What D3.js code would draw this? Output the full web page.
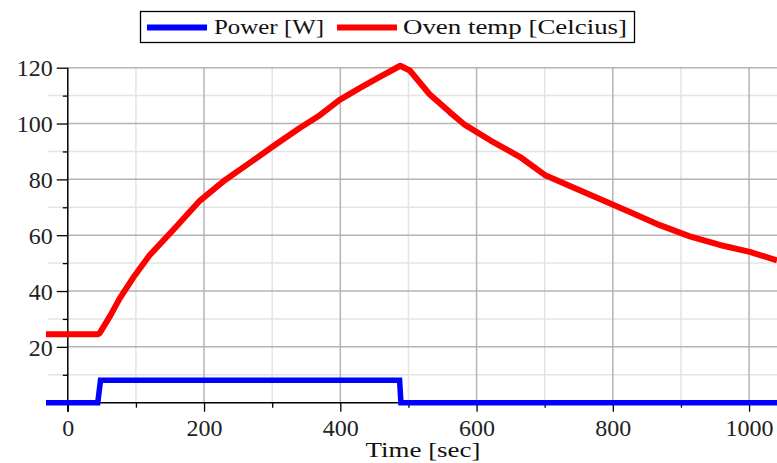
<!DOCTYPE html>
<html>
<head>
<meta charset="utf-8">
<script src="https://cdn.jsdelivr.net/npm/d3@7"></script>
<style>
    body { margin: 0; background: #fff; }
    svg { display: block; }
    .tick-label { font-family: "Liberation Serif", serif; font-size: 24px; fill: #222; }
    .legend-text { font-family: "Liberation Serif", serif; font-size: 20px; fill: #111; }
</style>
</head>
<body>
<svg id="chart" width="777" height="463"></svg>
<script>
// oven temperature
const tempTime = [-32, 0, 30, 44, 47, 62, 76, 98, 120, 157, 194, 231, 267, 304, 341, 370, 399, 429, 458, 488,
    502, 531, 561, 583, 620, 664, 700, 737, 781, 825, 869, 913, 957, 1001, 1041];
const tempValue = [24.5, 24.5, 24.5, 24.5, 25, 31, 37.3, 45.5, 52.8, 62.5, 72.4, 79.8, 85.9, 92.3, 98.5, 103, 108.5, 112.8, 116.7, 120.7,
    119, 110.5, 104, 99.5, 94, 88, 81.6, 77.6, 73, 68.3, 63.6, 59.6, 56.5, 54, 51];

// heater power (on/off step)
const powerTime = [-32, 44, 48, 487, 489, 1041];
const powerValue = [0, 0, 8, 8, 0, 0];

const xTicks = [0, 200, 400, 600, 800, 1000];
const xMinor = [100, 300, 500, 700, 900];
const yTicks = [20, 40, 60, 80, 100, 120];
const yMinor = [10, 30, 50, 70, 90, 110];

const seriesNames = ["Power [W]", "Oven temp [Celcius]"];
const seriesColors = ["#0000ff", "#ff0000"];

const svg = d3.select("#chart");

const plotLeft = 46, plotRight = 777, plotTop = 67.7, plotBottom = 402.7;
const x = d3.scaleLinear().domain([-32, 1041]).range([plotLeft, plotRight]);
const y = d3.scaleLinear().domain([0, 120]).range([plotBottom, plotTop]);

// grid
const grid = svg.append("g");
grid.selectAll(".ymin").data(yMinor).enter().append("line")
    .attr("x1", 48).attr("x2", plotRight)
    .attr("y1", d => y(d)).attr("y2", d => y(d))
    .attr("stroke", "#e4e4e4").attr("stroke-width", 1.5);
grid.selectAll(".xmin").data(xMinor).enter().append("line")
    .attr("x1", d => x(d)).attr("x2", d => x(d))
    .attr("y1", plotTop).attr("y2", plotBottom)
    .attr("stroke", "#e4e4e4").attr("stroke-width", 1.5);
grid.selectAll(".ymaj").data(yTicks).enter().append("line")
    .attr("x1", x(0)).attr("x2", plotRight)
    .attr("y1", d => y(d)).attr("y2", d => y(d))
    .attr("stroke", "#b4b4b4").attr("stroke-width", 1.5);
grid.selectAll(".xmaj").data(xTicks.filter(d => d > 0)).enter().append("line")
    .attr("x1", d => x(d)).attr("x2", d => x(d))
    .attr("y1", plotTop).attr("y2", plotBottom)
    .attr("stroke", "#b4b4b4").attr("stroke-width", 1.5);

// axes
const yAxis = d3.axisLeft(y).tickValues(yTicks).tickSize(11).tickPadding(4).tickFormat(d3.format("d"));
const yAxisMinor = d3.axisLeft(y).tickValues(yMinor).tickSize(5).tickFormat("");
const xAxis = d3.axisBottom(x).tickValues(xTicks).tickSize(9).tickPadding(8).tickFormat(d3.format("d"));
const xAxisMinor = d3.axisBottom(x).tickValues(xMinor).tickSize(5).tickFormat("");

function styleAxis(g) {
    g.select(".domain").remove();
    g.selectAll("line").attr("stroke", "#000").attr("stroke-width", 1.3);
    g.selectAll("text").attr("class", "tick-label").attr("fill", "#222");
}

svg.append("g").attr("transform", `translate(${x(0)},0)`).call(yAxis).call(styleAxis)
    .selectAll("text").attr("dy", "0.34em");
svg.append("g").attr("transform", `translate(${x(0)},0)`).call(yAxisMinor).call(styleAxis);
svg.append("g").attr("transform", `translate(0,${plotBottom})`).call(xAxis).call(styleAxis)
    .selectAll("text").attr("dy", "0.68em");
svg.append("g").attr("transform", `translate(0,${plotBottom})`).call(xAxisMinor).call(styleAxis);

// axis lines
svg.append("line")
    .attr("x1", x(0)).attr("x2", x(0)).attr("y1", plotTop).attr("y2", plotBottom + 9)
    .attr("stroke", "#000").attr("stroke-width", 1.5);
svg.append("line")
    .attr("x1", plotLeft).attr("x2", plotRight).attr("y1", plotBottom).attr("y2", plotBottom)
    .attr("stroke", "#000").attr("stroke-width", 1.5);

// series
const line = d3.line().x(d => x(d[0])).y(d => y(d[1]));

const tempData = tempTime.map((t, i) => [t, tempValue[i]]);
const powerData = powerTime.map((t, i) => [t, powerValue[i]]);

svg.append("path").datum(tempData)
    .attr("d", line)
    .attr("fill", "none")
    .attr("stroke", seriesColors[1])
    .attr("stroke-width", 6)
    .attr("stroke-linejoin", "round");

svg.append("path").datum(powerData)
    .attr("d", line)
    .attr("fill", "none")
    .attr("stroke", seriesColors[0])
    .attr("stroke-width", 5.5);

// x label
svg.append("text")
    .attr("class", "legend-text")
    .attr("x", 423).attr("y", 457)
    .attr("text-anchor", "middle")
    .attr("textLength", 115).attr("lengthAdjust", "spacingAndGlyphs")
    .text("Time [sec]");

// legend
const legend = svg.append("g");
legend.append("rect")
    .attr("x", 140.5).attr("y", 11.5).attr("width", 494).attr("height", 31)
    .attr("fill", "#fff").attr("stroke", "#000").attr("stroke-width", 1.3);

const legendItems = [
    { name: seriesNames[0], color: seriesColors[0], lx: 147, tx: 214, tw: 110 },
    { name: seriesNames[1], color: seriesColors[1], lx: 337, tx: 403, tw: 224 }
];
legendItems.forEach(it => {
    legend.append("line")
        .attr("x1", it.lx).attr("x2", it.lx + 60)
        .attr("y1", 27.5).attr("y2", 27.5)
        .attr("stroke", it.color).attr("stroke-width", 6);
    legend.append("text")
        .attr("class", "legend-text")
        .attr("x", it.tx).attr("y", 34)
        .attr("textLength", it.tw).attr("lengthAdjust", "spacingAndGlyphs")
        .text(it.name);
});
</script>
</body>
</html>
